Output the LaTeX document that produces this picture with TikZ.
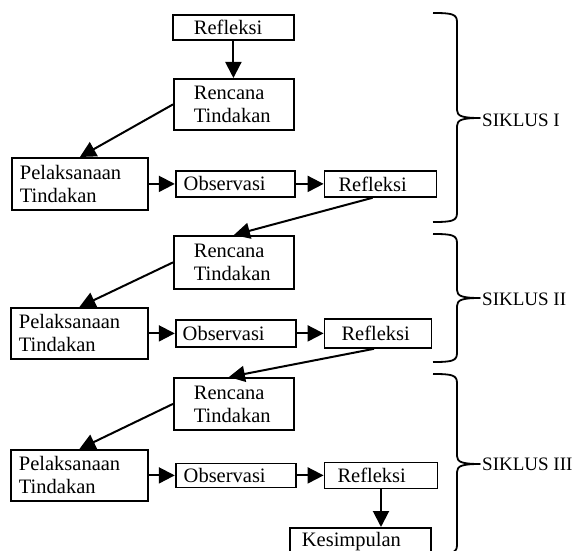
\documentclass[tikz,border=0pt]{standalone}
\usepackage{fontspec}
\setmainfont{Liberation Serif}
\usetikzlibrary{arrows.meta, positioning}

\begin{document}
\begin{tikzpicture}[
  x=1pt, y=-1pt,
  every node/.style={font=\fontsize{20.5}{23}\selectfont},
  box/.style 2 args={draw, line width=1.8pt, text width=#1, inner xsep=#2, inner ysep=0pt, align=left},
  arrow/.style={-{Triangle[length=16pt, width=16pt]}, line width=2pt},
  bracepath/.style={line width=1.8pt, line join=round},
  siklus/.style={anchor=west, inner sep=0pt, font=\fontsize{19}{22}\selectfont},
]
\useasboundingbox (0,0) rectangle (574,551);

% siklus I
\node[box={79pt}{21pt}, minimum height=25pt, anchor=north west] (ref0) at (172,14) {Refleksi};
\node[box={80pt}{20pt}, minimum height=51pt, anchor=north west] (ren1) at (173,78) {Rencana\\Tindakan};
\node[box={120pt}{8pt}, minimum height=52pt, anchor=north west] (pel1) at (11,157) {Pelaksanaan\\Tindakan};
\node[box={103pt}{8pt}, minimum height=26pt, right=26pt of pel1] (obs1) {Observasi};
\node[box={84pt}{14pt}, minimum height=26pt, right=28pt of obs1] (ref1) {Refleksi};

% siklus II
\node[box={80pt}{20pt}, minimum height=53pt, anchor=north west] (ren2) at (173,235) {Rencana\\Tindakan};
\node[box={121pt}{8pt}, minimum height=51pt, anchor=north west] (pel2) at (10,307) {Pelaksanaan\\Tindakan};
\node[box={106pt}{7pt}, minimum height=27pt, right=26pt of pel2] (obs2) {Observasi};
\node[box={73pt}{17pt}, minimum height=29pt, right=27pt of obs2] (ref2) {Refleksi};

% siklus III
\node[box={80pt}{20pt}, minimum height=52pt, anchor=north west] (ren3) at (173,377) {Rencana\\Tindakan};
\node[box={121pt}{8pt}, minimum height=51pt, anchor=north west] (pel3) at (10,449) {Pelaksanaan\\Tindakan};
\node[box={104pt}{8pt}, minimum height=24pt, right=26pt of pel3] (obs3) {Observasi};
\node[box={87pt}{13pt}, minimum height=26pt, right=27pt of obs3] (ref3) {Refleksi};
\node[box={117pt}{12pt}, minimum height=27pt, anchor=north west] (kes) at (289,527) {Kesimpulan};

% arrows
\draw[arrow] (ref0.south) -- (ref0.south |- ren1.north);
\draw[arrow] (ren1.west) -- (pel1.north);
\draw[arrow] (pel1) -- (obs1);
\draw[arrow] (obs1) -- (ref1);
\draw[arrow] ([xshift=-8pt]ref1.south) -- (ren2.north);
\draw[arrow] (ren2.west) -- (pel2.north);
\draw[arrow] (pel2) -- (obs2);
\draw[arrow] (obs2) -- (ref2);
\draw[arrow] ([xshift=-4pt]ref2.south) -- ([xshift=-5pt]ren3.north);
\draw[arrow] (ren3.west) -- (pel3.north);
\draw[arrow] (pel3) -- (obs3);
\draw[arrow] (obs3) -- (ref3);
\draw[arrow] (ref3.south) -- (ref3.south |- kes.north);

% braces
\draw[bracepath] (433,13) .. controls (452,13) and (457,14) .. (457,22) -- (457,110)
  .. controls (457,116) and (462,118) .. (480,118)
  .. controls (462,118) and (457,120) .. (457,126) -- (457,213)
  .. controls (457,221) and (452,222) .. (433,222);
\draw[bracepath] (433,234) .. controls (452,234) and (457,235) .. (457,243) -- (457,290)
  .. controls (457,296) and (462,298) .. (480,298)
  .. controls (462,298) and (457,300) .. (457,306) -- (457,353)
  .. controls (457,361) and (452,362) .. (433,362);
\draw[bracepath] (433,374) .. controls (452,374) and (457,375) .. (457,383) -- (457,456)
  .. controls (457,462) and (462,464) .. (480,464)
  .. controls (462,464) and (457,466) .. (457,472) -- (457,545)
  .. controls (457,553) and (452,554) .. (433,554);

\node[siklus] (sik1) at (482,120) {SIKLUS I};
\node[siklus] (sik2) at (482,299) {SIKLUS II};
\node[siklus] (sik3) at (482,464) {SIKLUS III};
\end{tikzpicture}
\end{document}
